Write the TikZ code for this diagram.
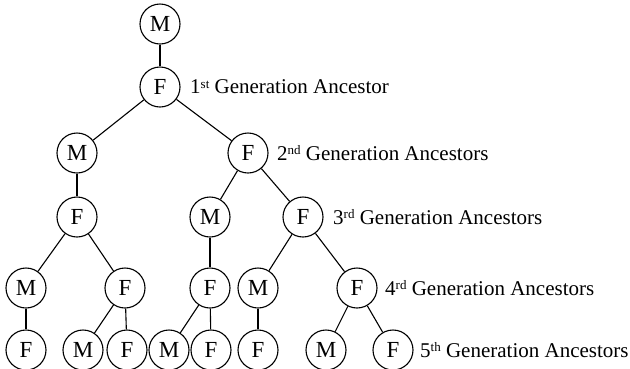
\documentclass[tikz,border=0pt]{standalone}
\usepackage{fontspec}
\setmainfont{Liberation Serif}
\newcommand{\gensup}[1]{\raisebox{0.6ex}{\fontsize{13}{13}\selectfont #1}}
\begin{document}
\begin{tikzpicture}[x=1pt,y=-1pt,
  person/.style={draw,circle,line width=1.1pt,minimum size=40pt,inner sep=0pt,font=\fontsize{23}{27}\selectfont},
  genlabel/.style={anchor=west,inner sep=0pt,font=\fontsize{21}{25}\selectfont},
  link/.style={line width=1.1pt}]
\useasboundingbox (0,0) rectangle (630,368);
% generation 0
\node[person] (m0) at (160,24) {M};
% generation 1
\node[person] (f1) at (160,87) {F};
% generation 2
\node[person] (m2) at (77,153) {M};
\node[person] (f2) at (248,153) {F};
% generation 3
\node[person] (f3a) at (77,217) {F};
\node[person] (m3) at (210,217) {M};
\node[person] (f3b) at (303,217) {F};
% generation 4
\node[person] (m4a) at (26,288) {M};
\node[person] (f4b) at (125,288) {F};
\node[person] (f4c) at (210,288) {F};
\node[person] (m4d) at (258,288) {M};
\node[person] (f4e) at (357,288) {F};
% generation 5
\node[person] (f5a) at (26,350) {F};
\node[person] (m5b) at (83,350) {M};
\node[person] (f5c) at (127,350) {F};
\node[person] (m5d) at (169,350) {M};
\node[person] (f5e) at (211,350) {F};
\node[person] (f5f) at (258,350) {F};
\node[person] (m5g) at (326,350) {M};
\node[person] (f5h) at (393,350) {F};
% links
\draw[link] (m0) -- (f1);
\draw[link] (f1) -- (m2);
\draw[link] (f1) -- (f2);
\draw[link] (m2) -- (f3a);
\draw[link] (f2) -- (m3);
\draw[link] (f2) -- (f3b);
\draw[link] (f3a) -- (m4a);
\draw[link] (f3a) -- (f4b);
\draw[link] (m3) -- (f4c);
\draw[link] (f3b) -- (m4d);
\draw[link] (f3b) -- (f4e);
\draw[link] (m4a) -- (f5a);
\draw[link] (f4b) -- (m5b);
\draw[link] (f4b) -- (f5c);
\draw[link] (f4c) -- (m5d);
\draw[link] (f4c) -- (f5e);
\draw[link] (m4d) -- (f5f);
\draw[link] (f4e) -- (m5g);
\draw[link] (f4e) -- (f5h);
% labels
\node[genlabel] (l1) at (190,87) {1\gensup{st} Generation Ancestor};
\node[genlabel] (l2) at (277,153) {2\gensup{nd} Generation Ancestors};
\node[genlabel] (l3) at (333,217) {3\gensup{rd} Generation Ancestors};
\node[genlabel] (l4) at (385,288) {4\gensup{rd} Generation Ancestors};
\node[genlabel] (l5) at (420,350) {5\gensup{th} Generation Ancestors};
\end{tikzpicture}
\end{document}
